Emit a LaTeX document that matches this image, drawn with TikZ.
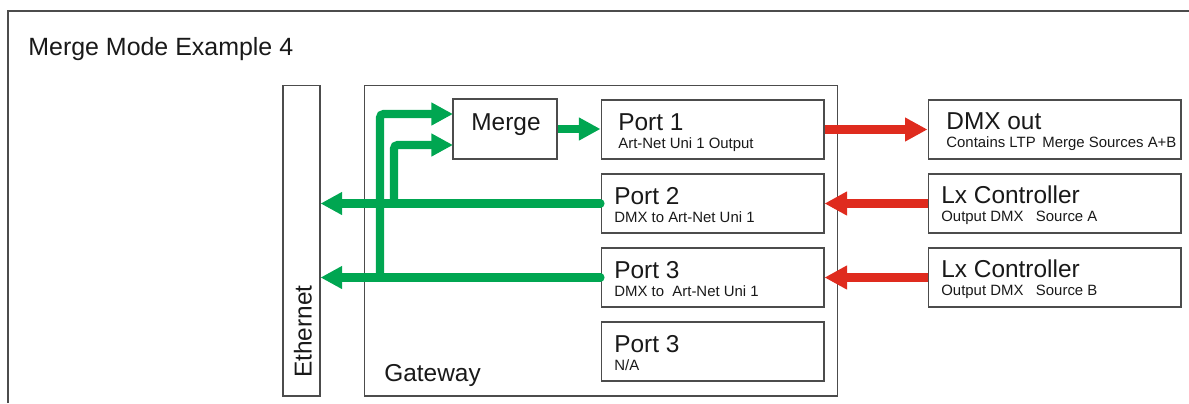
\documentclass[tikz,border=0pt]{standalone}
\usepackage{fontspec}
\setmainfont{Liberation Sans}
\usetikzlibrary{arrows.meta}

\begin{document}
\begin{tikzpicture}[x=0.02cm,y=-0.02cm,
  boxnode/.style={draw=black!70,line width=0.6pt,inner sep=0pt},
  bigtext/.style={anchor=base west,inner sep=0pt,text=black!90,font=\fontsize{13.9}{16}\selectfont},
  smalltext/.style={anchor=base west,inner sep=0pt,text=black!90,font=\fontsize{8.5}{10}\selectfont},
  greenflow/.style={draw=netgreen,line width=4.6pt,-{Triangle[length=12.3pt,width=12.3pt]}},
  redflow/.style={draw=dmxred,line width=5.5pt,-{Triangle[length=12.8pt,width=12.8pt]}}]
\definecolor{netgreen}{HTML}{00A651}
\definecolor{dmxred}{HTML}{DF2B1E}
\useasboundingbox (0,0) rectangle (1189,403);
\draw[black!70,line width=0.6pt] (8,403) -- (8,11) -- (1189,11);
\node[anchor=base west,inner sep=0pt,text=black!90,font=\fontsize{14.2}{17}\selectfont] (title) at (28,55) {Merge Mode Example 4};

\node[boxnode,minimum width=0.74cm,minimum height=6.22cm] (eth) at (301.5,240.5) {};
\node[bigtext,rotate=90] (eth-t) at (311.5,378) {Ethernet};
\node[boxnode,minimum width=9.48cm,minimum height=6.22cm] (gw) at (601,240.5) {};
\node[bigtext] (gw-t) at (384,381) {Gateway};
\node[boxnode,minimum width=2.08cm,minimum height=1.2cm] (merge) at (505,129) {};
\node[bigtext,anchor=base] (merge-t) at (506,130) {Merge};

  \foreach \nm/\row/\tx/\ttl/\sub in {p1/0/618/Port 1/Art-Net Uni 1 Output,
      p2/1/614/Port 2/DMX to Art-Net Uni 1,
      p3/2/614/Port 3/DMX to\ \ Art-Net Uni 1,
      p4/3/614/Port 3/{N/A}}
  {  \node[boxnode,minimum width=4.46cm,minimum height=1.18cm] (\nm) at (712.5,129.5+74*\row) {};
     \node[bigtext] (\nm-t) at (\tx,130+74*\row) {\ttl};
     \node[smalltext] (\nm-s) at (\tx,148+74*\row) {\sub};}

  \foreach \nm/\row/\tx/\ttl/\sub in {dmx/0/946/DMX out/Contains LTP\ \,Merge Sources A+B,
      lxa/1/941/Lx Controller/Output DMX\ \ \ Source A,
      lxb/2/941/Lx Controller/Output DMX\ \ \ Source B}
  {  \node[boxnode,minimum width=5.06cm,minimum height=1.18cm] (\nm) at (1054.5,129.5+74*\row) {};
     \node[bigtext] (\nm-t) at (\tx,129.5+74*\row) {\ttl};
     \node[smalltext] (\nm-s) at (\tx,147.5+74*\row) {\sub};}

\coordinate (tapa) at (380,0);
\coordinate (tapb) at (394,0);
\coordinate (in1) at (453,114);
\coordinate (in2) at (453,145);

\draw[greenflow,line cap=round] (p2.west) -- (p2.west -| eth.east);
\draw[greenflow,line cap=round] (p3.west) -- (p3.west -| eth.east);
\draw[greenflow,rounded corners=2pt] (tapa |- p3.west) -- (tapa |- in1) -- (in1);
\draw[greenflow,rounded corners=2pt] (tapb |- p2.west) -- (tapb |- in2) -- (in2);
\draw[greenflow] (merge.east) -- (merge.east -| p1.west);

\draw[redflow] (p1.east) -- (dmx.west);
\draw[redflow] (lxa.west) -- (p2.east);
\draw[redflow] (lxb.west) -- (p3.east);
\end{tikzpicture}
\end{document}
